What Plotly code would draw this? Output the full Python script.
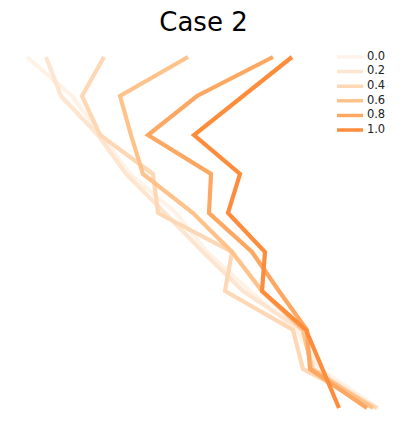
import plotly.graph_objects as go

# depth levels (top to bottom) and one profile per interpolation step
levels = [0, 1, 2, 3, 4, 5, 6, 7, 8, 9]
steps = ["0.0", "0.2", "0.4", "0.6", "0.8", "1.0"]

case_00 = [27, 72, 101, 130, 176, 207, 250, 296, 320, 378]
case_02 = [46, 61, 98, 126, 165, 203, 243, 302, 314, 376]
case_04 = [104, 82, 100, 153, 158, 232, 225, 293, 303, 377]
case_06 = [188, 120, 131, 143, 193, 232, 262, 303, 312, 373]
case_08 = [273, 197, 148, 211, 209, 252, 279, 307, 310, 367]
case_10 = [292, 243, 194, 240, 228, 265, 262, 306, 322, 339]

profiles = [case_00, case_02, case_04, case_06, case_08, case_10]
colores = ["#fff3e8", "#fee5d0", "#fed8b5", "#fec38b", "#fda862", "#fd8d3c"]

fig = go.Figure()
for nome, xs, cor in zip(steps, profiles, colores):
    fig.add_trace(go.Scatter(x=xs, y=levels, mode="lines", name=nome,
                             line=dict(color=cor, width=4.2), showlegend=False))

# legenda compacta desenhada num eixo auxiliar (uma linha por passo)
for i, (nome, cor) in enumerate(zip(steps, colores)):
    fig.add_trace(go.Scatter(x=[0, 1], y=[i, i], mode="lines", xaxis="x2", yaxis="y2",
                             line=dict(color=cor, width=3.5), showlegend=False,
                             hoverinfo="skip"))
fig.add_trace(go.Scatter(x=[1.15] * len(steps), y=list(range(len(steps))), mode="text",
                         text=steps, textposition="middle right", xaxis="x2", yaxis="y2",
                         textfont=dict(size=11.5, color="#222"), showlegend=False,
                         hoverinfo="skip"))

fig.update_layout(
    width=407, height=435,
    margin=dict(l=0, r=0, t=0, b=0),
    plot_bgcolor="white", paper_bgcolor="white",
    font=dict(family="DejaVu Sans", color="black"),
    title=dict(text="Case 2", x=0.5, xanchor="center", y=1 - 22 / 435,
               yanchor="middle", font=dict(size=26)),
    xaxis=dict(visible=False, range=[0, 407]),
    yaxis=dict(visible=False, range=[(435 - 57) / 39, -57 / 39]),
    xaxis2=dict(visible=False, domain=[337 / 407, 400 / 407], range=[0, 63 / 26],
                anchor="y2"),
    yaxis2=dict(visible=False, domain=[1 - 137.3 / 435, 1 - 49.7 / 435],
                range=[5.5, -0.5], anchor="x2"),
)

fig.write_html("out.html", config={"displayModeBar": False},
               post_script="document.body.style.margin='0';")
